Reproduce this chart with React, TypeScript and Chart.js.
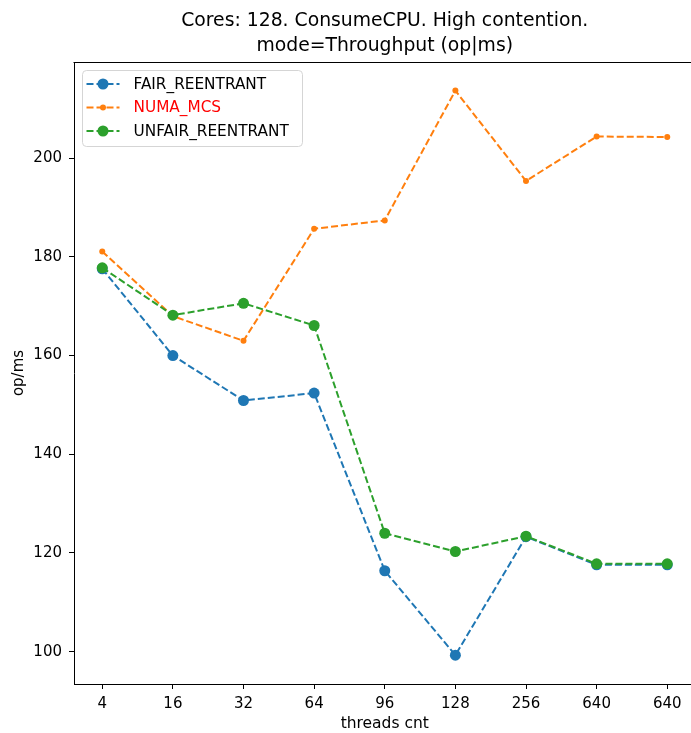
import React, { useEffect, useRef } from "react";
import { Chart, registerables } from "chart.js";

Chart.register(...registerables);

const threadLabels = ["4", "16", "32", "64", "96", "128", "256", "640", "640"];
const fairReentrant = [177.6, 160.0, 150.9, 152.4, 116.4, 99.3, 123.3, 117.6, 117.6];
const numaMcs = [181.1, 168.0, 163.0, 185.7, 187.4, 213.7, 195.4, 204.4, 204.3];
const unfairReentrant = [177.8, 168.2, 170.6, 166.1, 124.0, 120.3, 123.4, 117.8, 117.8];
const seriesNames = ["FAIR_REENTRANT", "NUMA_MCS", "UNFAIR_REENTRANT"];
const titleLines = ["Cores: 128. ConsumeCPU. High contention.", "mode=Throughput (op|ms)"];
const xTitle = "threads cnt";
const yTitle = "op/ms";

const FONT = "'DejaVu Sans', sans-serif";
const colors = ["#1f77b4", "#ff7f0e", "#2ca02c"];
const legendTextColors = ["#000000", "#ff0000", "#000000"];
const radii = [5.5, 3, 5.5];

const toXY = (arr: number[]) => arr.map((v, i) => ({ x: i, y: v }));

const framePlugin = {
  id: "frameAndExtras",
  afterDatasetsDraw(chart: any) {
    const { ctx, chartArea } = chart;
    ctx.save();
    ctx.strokeStyle = "#000";
    ctx.lineWidth = 1;
    ctx.beginPath();
    ctx.moveTo(Math.round(chartArea.left) - 0.5, Math.round(chartArea.top) + 0.5);
    ctx.lineTo(Math.round(chartArea.right) + 0.5, Math.round(chartArea.top) + 0.5);
    ctx.lineTo(Math.round(chartArea.right) + 0.5, Math.round(chartArea.bottom) + 0.5);
    ctx.stroke();
    ctx.restore();
  },
  afterDraw(chart: any) {
    const { ctx, chartArea } = chart;
    ctx.save();
    // title
    ctx.fillStyle = "#000";
    ctx.font = `18.8px ${FONT}`;
    ctx.textAlign = "center";
    ctx.textBaseline = "middle";
    const cx = (chartArea.left + chartArea.right) / 2;
    ctx.fillText(titleLines[0], cx, 21);
    ctx.fillText(titleLines[1], cx, 46);

    // legend
    const bx = chartArea.left + 8.5;
    const by = chartArea.top + 8.5;
    const bw = 220;
    const bh = 76;
    ctx.beginPath();
    if ((ctx as any).roundRect) (ctx as any).roundRect(bx, by, bw, bh, 4);
    else ctx.rect(bx, by, bw, bh);
    ctx.fillStyle = "rgba(255,255,255,0.8)";
    ctx.fill();
    ctx.strokeStyle = "#d5d5d5";
    ctx.lineWidth = 1;
    ctx.stroke();

    const rows = [by + 13.5, by + 37, by + 60.5];
    chart.data.datasets.forEach((ds: any, i: number) => {
      const y = rows[i];
      ctx.strokeStyle = colors[i];
      ctx.lineWidth = 2;
      ctx.setLineDash([7, 3]);
      ctx.beginPath();
      ctx.moveTo(bx + 4, y);
      ctx.lineTo(bx + 37, y);
      ctx.stroke();
      ctx.setLineDash([]);
      ctx.fillStyle = colors[i];
      ctx.beginPath();
      ctx.arc(bx + 20.5, y, radii[i], 0, Math.PI * 2);
      ctx.fill();
      ctx.fillStyle = legendTextColors[i];
      ctx.font = `15.3px ${FONT}`;
      ctx.textAlign = "left";
      ctx.textBaseline = "middle";
      ctx.fillText(ds.label, bx + 51, y + 1);
    });
    ctx.restore();
  },
};

export default function App() {
  const canvasRef = useRef<HTMLCanvasElement | null>(null);

  useEffect(() => {
    if (!canvasRef.current) return;
    const series = [fairReentrant, numaMcs, unfairReentrant];
    const chart = new Chart(canvasRef.current, {
      type: "line",
      data: {
        datasets: series.map((s, i) => ({
          label: seriesNames[i],
          data: toXY(s),
          borderColor: colors[i],
          backgroundColor: colors[i],
          borderWidth: 2,
          borderDash: [7, 3],
          pointRadius: radii[i],
          pointBorderWidth: 0,
          pointBackgroundColor: colors[i],
          fill: false,
          tension: 0,
          order: 3 - i,
        })),
      },
      options: {
        responsive: false,
        animation: false,
        devicePixelRatio: 1,
        layout: { padding: { top: 62, left: 0, right: 0, bottom: 0 } },
        plugins: {
          legend: { display: false },
          title: { display: false },
          tooltip: { enabled: false },
        },
        scales: {
          x: {
            type: "linear",
            min: -0.4,
            max: 8.4,
            afterFit: (scale: any) => {
              scale.height = 49;
            },
            afterBuildTicks: (scale: any) => {
              scale.ticks = threadLabels.map((_, i) => ({ value: i }));
            },
            ticks: {
              stepSize: 1,
              includeBounds: false,
              autoSkip: false,
              maxRotation: 0,
              color: "#000",
              padding: 6,
              font: { family: FONT, size: 15 },
              callback: (v: any) => threadLabels[Math.round(Number(v))] ?? "",
            },
            grid: {
              display: true,
              drawOnChartArea: false,
              drawTicks: true,
              tickLength: 5,
              color: "#000",
            },
            border: { display: true, color: "#000", width: 1 },
            title: {
              display: true,
              text: xTitle,
              color: "#000",
              font: { family: FONT, size: 15.5 },
              padding: { top: 0, bottom: 0 },
            },
          },
          y: {
            type: "linear",
            min: 93.45,
            max: 219.5,
            afterFit: (scale: any) => {
              scale.width = 74;
            },
            ticks: {
              stepSize: 20,
              includeBounds: false,
              color: "#000",
              padding: 7,
              font: { family: FONT, size: 15 },
            },
            grid: {
              display: true,
              drawOnChartArea: false,
              drawTicks: true,
              tickLength: 5,
              color: "#000",
            },
            border: { display: true, color: "#000", width: 1 },
            title: {
              display: true,
              text: yTitle,
              color: "#000",
              font: { family: FONT, size: 15 },
              padding: { top: 10, bottom: 0 },
            },
          },
        },
      },
      plugins: [framePlugin],
    } as any);
    return () => chart.destroy();
  }, []);

  return (
    <div
      style={{
        position: "fixed",
        left: 0,
        top: 0,
        width: 691,
        height: 733,
        overflow: "hidden",
        background: "#fff",
      }}
    >
      <canvas ref={canvasRef} width={701} height={733} style={{ display: "block", width: 701, height: 733 }} />
    </div>
  );
}
